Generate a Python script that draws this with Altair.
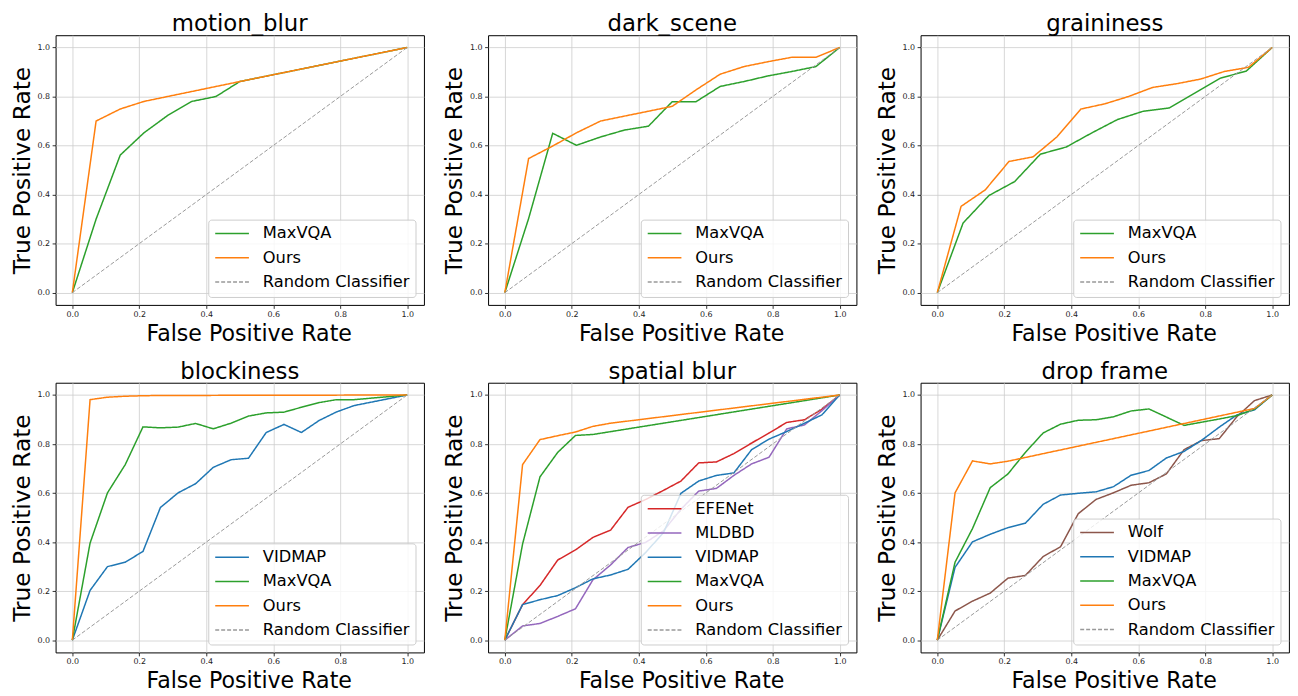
import altair as alt
import pandas as pd

FONT = "DejaVu Sans"

# ---------------- data ----------------
RANDOM_FPR = [0.0, 1.0]
RANDOM_TPR = [0.0, 1.0]

# motion_blur
MB_MAXVQA_FPR = [0, 0.071, 0.143, 0.214, 0.286, 0.357, 0.429, 0.5, 1.0]
MB_MAXVQA_TPR = [0, 0.30, 0.561, 0.652, 0.724, 0.78, 0.80, 0.861, 1.0]
MB_OURS_FPR = [0, 0.071, 0.143, 0.214, 0.5, 1.0]
MB_OURS_TPR = [0, 0.70, 0.749, 0.78, 0.861, 1.0]

# dark_scene
DS_MAXVQA_FPR = [0, 0.071, 0.143, 0.214, 0.286, 0.357, 0.429, 0.5, 0.571, 0.643, 0.714, 0.786, 0.857, 0.929, 1.0]
DS_MAXVQA_TPR = [0, 0.302, 0.65, 0.601, 0.635, 0.663, 0.679, 0.779, 0.779, 0.841, 0.861, 0.884, 0.902, 0.922, 1.0]
DS_OURS_FPR = [0, 0.071, 0.143, 0.214, 0.286, 0.357, 0.429, 0.5, 0.571, 0.643, 0.714, 0.786, 0.857, 0.929, 1.0]
DS_OURS_TPR = [0, 0.547, 0.598, 0.652, 0.70, 0.72, 0.74, 0.76, 0.827, 0.891, 0.922, 0.942, 0.96, 0.96, 1.0]

# graininess
GR_MAXVQA_FPR = [0, 0.077, 0.154, 0.231, 0.308, 0.385, 0.462, 0.538, 0.615, 0.692, 0.769, 0.846, 0.923, 1.0]
GR_MAXVQA_TPR = [0, 0.284, 0.396, 0.453, 0.565, 0.594, 0.652, 0.706, 0.74, 0.753, 0.814, 0.875, 0.904, 1.0]
GR_OURS_FPR = [0, 0.071, 0.143, 0.214, 0.286, 0.357, 0.429, 0.5, 0.571, 0.643, 0.714, 0.786, 0.857, 0.929, 1.0]
GR_OURS_TPR = [0, 0.352, 0.419, 0.535, 0.554, 0.635, 0.749, 0.77, 0.80, 0.837, 0.852, 0.871, 0.902, 0.919, 1.0]

# blockiness
BL_VIDMAP_FPR = [0, 0.053, 0.105, 0.158, 0.211, 0.263, 0.316, 0.368, 0.421, 0.474, 0.526, 0.579, 0.632, 0.684, 0.737, 0.789, 0.842, 1.0]
BL_VIDMAP_TPR = [0, 0.203, 0.30, 0.318, 0.362, 0.541, 0.601, 0.638, 0.705, 0.736, 0.742, 0.847, 0.88, 0.847, 0.896, 0.931, 0.957, 1.0]
BL_MAXVQA_FPR = [0, 0.053, 0.105, 0.158, 0.211, 0.263, 0.316, 0.368, 0.421, 0.474, 0.526, 0.579, 0.632, 0.684, 0.737, 0.789, 0.842, 1.0]
BL_MAXVQA_TPR = [0, 0.396, 0.601, 0.716, 0.87, 0.866, 0.869, 0.884, 0.862, 0.885, 0.914, 0.927, 0.93, 0.95, 0.969, 0.981, 0.981, 1.0]
BL_OURS_FPR = [0, 0.053, 0.105, 0.158, 0.211, 0.263, 1.0]
BL_OURS_TPR = [0, 0.981, 0.991, 0.995, 0.997, 0.998, 1.0]

# spatial blur
SB_EFENET_FPR = [0, 0.053, 0.105, 0.158, 0.211, 0.263, 0.316, 0.368, 0.421, 0.474, 0.526, 0.579, 0.632, 0.684, 0.737, 0.789, 0.842, 0.895, 0.947, 1.0]
SB_EFENET_TPR = [0, 0.145, 0.223, 0.327, 0.368, 0.419, 0.449, 0.542, 0.574, 0.611, 0.649, 0.723, 0.727, 0.761, 0.804, 0.845, 0.888, 0.899, 0.942, 1.0]
SB_MLDBD_FPR = [0, 0.053, 0.105, 0.158, 0.211, 0.263, 0.316, 0.368, 0.421, 0.474, 0.526, 0.579, 0.632, 0.684, 0.737, 0.789, 0.842, 0.895, 0.947, 1.0]
SB_MLDBD_TPR = [0, 0.058, 0.068, 0.097, 0.128, 0.246, 0.307, 0.378, 0.399, 0.446, 0.534, 0.608, 0.619, 0.672, 0.719, 0.746, 0.862, 0.878, 0.936, 1.0]
SB_VIDMAP_FPR = [0, 0.053, 0.105, 0.158, 0.211, 0.263, 0.316, 0.368, 0.421, 0.474, 0.526, 0.579, 0.632, 0.684, 0.737, 0.789, 0.842, 0.895, 0.947, 1.0]
SB_VIDMAP_TPR = [0, 0.145, 0.165, 0.182, 0.214, 0.25, 0.266, 0.289, 0.358, 0.439, 0.599, 0.649, 0.672, 0.682, 0.777, 0.82, 0.851, 0.885, 0.919, 1.0]
SB_MAXVQA_FPR = [0, 0.053, 0.105, 0.158, 0.211, 0.263, 1.0]
SB_MAXVQA_TPR = [0, 0.392, 0.666, 0.766, 0.835, 0.839, 1.0]
SB_OURS_FPR = [0, 0.053, 0.105, 0.158, 0.211, 0.263, 0.316, 1.0]
SB_OURS_TPR = [0, 0.716, 0.818, 0.834, 0.849, 0.872, 0.885, 1.0]

# drop frame
DF_WOLF_FPR = [0, 0.053, 0.105, 0.158, 0.211, 0.263, 0.316, 0.368, 0.421, 0.474, 0.526, 0.579, 0.632, 0.684, 0.737, 0.789, 0.842, 0.895, 0.947, 1.0]
DF_WOLF_TPR = [0, 0.119, 0.159, 0.192, 0.253, 0.264, 0.341, 0.381, 0.516, 0.574, 0.601, 0.632, 0.642, 0.678, 0.777, 0.814, 0.822, 0.912, 0.977, 1.0]
DF_VIDMAP_FPR = [0, 0.053, 0.105, 0.158, 0.211, 0.263, 0.316, 0.368, 0.421, 0.474, 0.526, 0.579, 0.632, 0.684, 0.737, 0.789, 0.842, 0.895, 0.947, 1.0]
DF_VIDMAP_TPR = [0, 0.297, 0.401, 0.432, 0.459, 0.477, 0.554, 0.592, 0.599, 0.605, 0.626, 0.673, 0.692, 0.743, 0.77, 0.815, 0.869, 0.919, 0.939, 1.0]
DF_MAXVQA_FPR = [0, 0.053, 0.105, 0.158, 0.211, 0.263, 0.316, 0.368, 0.421, 0.474, 0.526, 0.579, 0.632, 0.684, 0.737, 0.789, 0.842, 0.895, 0.947, 1.0]
DF_MAXVQA_TPR = [0, 0.318, 0.455, 0.622, 0.678, 0.766, 0.845, 0.881, 0.897, 0.899, 0.911, 0.935, 0.943, 0.91, 0.876, 0.889, 0.902, 0.916, 0.942, 1.0]
DF_OURS_FPR = [0, 0.053, 0.105, 0.158, 0.211, 0.947, 1.0]
DF_OURS_TPR = [0, 0.601, 0.731, 0.719, 0.73, 0.945, 1.0]

TICKS = [0.0, 0.2, 0.4, 0.6, 0.8, 1.0]

COLOR_OF = {
    "VIDMAP": "#1f77b4",
    "Ours": "#ff7f0e",
    "MaxVQA": "#2ca02c",
    "EFENet": "#d62728",
    "MLDBD": "#9467bd",
    "Wolf": "#8c564b",
    "Random Classifier": "#999999",
}

W = 371.5
H = 272


def frame(series):
    rows = []
    for name, xs, ys in series:
        for x, y in zip(xs, ys):
            rows.append({"series": name, "fpr": x, "tpr": y})
    return pd.DataFrame(rows)


def panel(title, series):
    names = [s[0] for s in series] + ["Random Classifier"]
    colors = [COLOR_OF[n] for n in names]
    dashes = [[1, 0]] * (len(names) - 1) + [[4, 2]]
    color = alt.Color(
        "series:N",
        scale=alt.Scale(domain=names, range=colors),
        legend=alt.Legend(title=None),
    )
    dash = alt.StrokeDash(
        "series:N",
        scale=alt.Scale(domain=names, range=dashes),
        legend=alt.Legend(title=None),
    )
    x = alt.X(
        "fpr:Q",
        scale=alt.Scale(domain=[-0.05, 1.05], nice=False, zero=False),
        axis=alt.Axis(values=TICKS, format=".1f", title="False Positive Rate",
                      titleX=W / 2 + 9, titleAlign="center"),
    )
    y = alt.Y(
        "tpr:Q",
        scale=alt.Scale(domain=[-0.05, 1.05], nice=False, zero=False),
        axis=alt.Axis(values=TICKS, format=".1f", title="True Positive Rate"),
    )
    curves = alt.Chart(frame(series)).mark_line(strokeWidth=1.5).encode(
        x=x, y=y, color=color, strokeDash=dash
    )
    diag = alt.Chart(frame([("Random Classifier", RANDOM_FPR, RANDOM_TPR)])).mark_line(
        strokeWidth=1
    ).encode(x=x, y=y, color=color, strokeDash=dash)
    return alt.layer(curves, diag).properties(width=W, height=H, title=title)


p1 = panel("motion_blur", [("MaxVQA", MB_MAXVQA_FPR, MB_MAXVQA_TPR),
                           ("Ours", MB_OURS_FPR, MB_OURS_TPR)])
p2 = panel("dark_scene", [("MaxVQA", DS_MAXVQA_FPR, DS_MAXVQA_TPR),
                          ("Ours", DS_OURS_FPR, DS_OURS_TPR)])
p3 = panel("graininess", [("MaxVQA", GR_MAXVQA_FPR, GR_MAXVQA_TPR),
                          ("Ours", GR_OURS_FPR, GR_OURS_TPR)])
p4 = panel("blockiness", [("VIDMAP", BL_VIDMAP_FPR, BL_VIDMAP_TPR),
                          ("MaxVQA", BL_MAXVQA_FPR, BL_MAXVQA_TPR),
                          ("Ours", BL_OURS_FPR, BL_OURS_TPR)])
p5 = panel("spatial blur", [("EFENet", SB_EFENET_FPR, SB_EFENET_TPR),
                            ("MLDBD", SB_MLDBD_FPR, SB_MLDBD_TPR),
                            ("VIDMAP", SB_VIDMAP_FPR, SB_VIDMAP_TPR),
                            ("MaxVQA", SB_MAXVQA_FPR, SB_MAXVQA_TPR),
                            ("Ours", SB_OURS_FPR, SB_OURS_TPR)])
p6 = panel("drop frame", [("Wolf", DF_WOLF_FPR, DF_WOLF_TPR),
                          ("VIDMAP", DF_VIDMAP_FPR, DF_VIDMAP_TPR),
                          ("MaxVQA", DF_MAXVQA_FPR, DF_MAXVQA_TPR),
                          ("Ours", DF_OURS_FPR, DF_OURS_TPR)])

chart = alt.concat(
    p1, p2, p3, p4, p5, p6,
    columns=3,
    spacing={"row": 78.5, "column": 64.2},
    bounds="flush",
).resolve_scale(
    color="independent", strokeDash="independent", x="independent", y="independent"
).resolve_legend(color="independent", strokeDash="independent").properties(
    padding={"left": 1, "top": 1.5, "right": 0, "bottom": 0},
    background="white",
).configure_view(
    stroke="black", strokeWidth=1
).configure_axis(
    labelFont=FONT, labelFontSize=8, labelColor="#222222", labelPadding=2.5,
    labelFlush=False,
    tickColor="black", tickSize=3.5, tickWidth=0.8,
    domain=False,
    grid=True, gridColor="#cccccc", gridWidth=0.8,
    titleFont=FONT, titleFontSize=22, titleFontWeight="normal", titleColor="black",
).configure_axisX(
    titlePadding=4, labelPadding=2, titleFontSize=22.3
).configure_axisY(
    titlePadding=3, titleFontSize=23.5
).configure_title(
    font=FONT, fontSize=23, fontWeight="normal", color="black", offset=-1, anchor="middle"
).configure_legend(
    orient="bottom-right", direction="vertical", offset=8.5, padding=6,
    fillColor="rgba(255,255,255,0.8)", strokeColor="#cccccc", cornerRadius=3,
    labelFont=FONT, labelFontSize=16.4, labelColor="black", labelLimit=400,
    labelOffset=13, symbolType="stroke", symbolSize=1156, symbolStrokeWidth=1.5,
    clipHeight=16, rowPadding=7.5,
)

chart.save("out.html", embed_options={"renderer": "svg", "actions": False})
